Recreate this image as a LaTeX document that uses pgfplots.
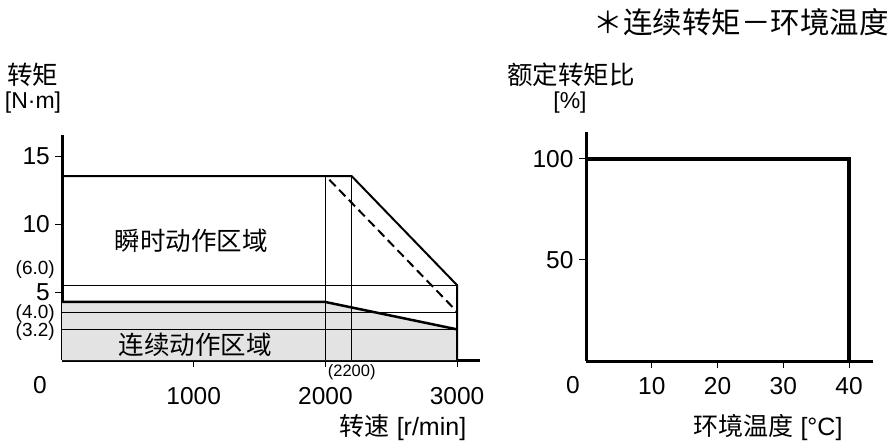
\documentclass[border=0pt]{standalone}
\usepackage{fontspec}
\setmainfont{Liberation Sans}
\newfontfamily\cjk{Noto Sans CJK SC}
\usepackage{pgfplots}
\pgfplotsset{compat=1.18}
\begin{document}
\begin{tikzpicture}[x=1pt,y=1pt]
\useasboundingbox (0,0) rectangle (894,445);
% ---------- left chart ----------
\begin{axis}[
  scale only axis, width=418pt, height=225pt,
  at={(62pt,85pt)}, anchor=south west,
  xmin=0, xmax=3174, ymin=0, ymax=16.6,
  axis lines=left, axis line style={-, line width=3pt},
  xtick={1000,2000,3000}, ytick={5,10,15},
  tick align=outside, major tick length=7pt,
  tick style={line width=1pt, black},
  /pgf/number format/assume math mode=true,
  /pgf/number format/set thousands separator={},
  xticklabel style={font=\fontsize{24.5}{24.5}\selectfont, yshift=-17pt},
  yticklabel style={font=\fontsize{24.5}{24.5}\selectfont, xshift=-5pt, inner sep=0pt},
  clip=false,
]
\addplot[fill=black!11, draw=none] coordinates {(0,0) (0,4.28) (2000,4.28) (3000,2.26) (3000,0)} -- cycle;
% thin guide lines
\addplot[line width=1pt] coordinates {(0,5.52) (3000,5.52)};
\addplot[line width=1pt] coordinates {(0,3.52) (3000,3.52)};
\addplot[line width=1pt] coordinates {(0,2.26) (3000,2.26)};
\addplot[line width=1pt] coordinates {(2000,0) (2000,13.56)};
\addplot[line width=1pt] coordinates {(2200,0) (2200,13.56)};
% peak torque
\addplot[line width=2pt] coordinates {(0,13.56) (2200,13.56) (3000,5.52) (3000,0)};
\addplot[line width=2pt, dash pattern=on 9pt off 5pt] coordinates {(2030,13.3) (3000,3.56)};
% continuous torque
\addplot[line width=2.5pt] coordinates {(0,4.28) (2000,4.28) (3000,2.26)};
% labels
\node[font=\fontsize{19}{19}\selectfont, anchor=east, inner sep=0pt] at (axis cs:0,6.65) [xshift=-7pt] {(6.0)};
\node[font=\fontsize{19}{19}\selectfont, anchor=east, inner sep=0pt] at (axis cs:0,3.45) [xshift=-7pt] {(4.0)};
\node[font=\fontsize{19}{19}\selectfont, anchor=east, inner sep=0pt] at (axis cs:0,2.08) [xshift=-7pt] {(3.2)};
\node[font=\fontsize{24.5}{24.5}\selectfont] at (axis cs:0,0) [xshift=-22pt, yshift=-25pt] {0};
\node[font=\fontsize{16.5}{16.5}\selectfont] at (axis cs:2200,0) [yshift=-12pt] {(2200)};
\node[font=\fontsize{25.5}{25.5}\cjk] at (axis cs:980,8.8) {瞬时动作区域};
\node[font=\fontsize{25.5}{25.5}\cjk] at (axis cs:1010,1.1) {连续动作区域};
\end{axis}
% ---------- right chart ----------
\begin{axis}[
  scale only axis, width=286.7pt, height=229.3pt,
  at={(586pt,84pt)}, anchor=south west,
  xmin=0, xmax=43.6, ymin=0, ymax=113.5,
  axis lines=left, axis line style={-, line width=3pt},
  xtick={10,20,30,40}, ytick={50,100},
  tick align=outside, major tick length=7pt,
  tick style={line width=1pt, black},
  /pgf/number format/assume math mode=true,
  xticklabel style={font=\fontsize{24.5}{24.5}\selectfont, yshift=-6pt},
  yticklabel style={font=\fontsize{24.5}{24.5}\selectfont, xshift=-2pt},
  clip=false,
]
\addplot[line width=3.5pt] coordinates {(0,100) (40,100) (40,0)};
\node[font=\fontsize{24.5}{24.5}\selectfont] at (axis cs:0,0) [xshift=-13pt, yshift=-24pt] {0};
\end{axis}
% ---------- texts ----------
\node[font=\fontsize{25.5}{25.5}\selectfont] at (33,370) {\cjk 转矩};
\node[font=\fontsize{23}{23}\selectfont] at (33,342) {[N·m]};
\node[font=\fontsize{25}{25}\selectfont] at (403,17) {{\cjk 转速} [r/min]};
\node[font=\fontsize{25.5}{25.5}\selectfont] at (571,370) {\cjk 额定转矩比};
\node[font=\fontsize{23}{23}\selectfont] at (570,342) {[\%]};
\node[font=\fontsize{25}{25}\selectfont] at (768,17) {{\cjk 环境温度} [°C]};
\node[font=\fontsize{29.5}{29.5}\cjk] at (741,423) {＊连续转矩－环境温度};
\end{tikzpicture}
\end{document}
